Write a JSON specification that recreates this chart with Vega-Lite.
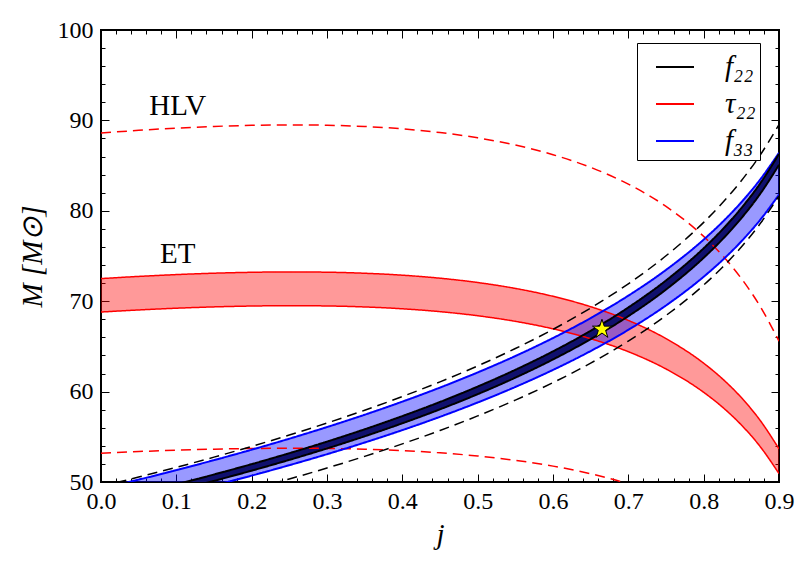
{
  "$schema": "https://vega.github.io/schema/vega-lite/v6.json",
  "width": 678,
  "height": 452,
  "autosize": {"type": "none"},
  "padding": {"left": 101, "top": 30, "right": 24, "bottom": 81},
  "background": "white",
  "config": {
    "view": {"stroke": "black", "strokeWidth": 2},
    "axis": {
      "domain": false, "grid": false, "tickColor": "black", "tickWidth": 1,
      "labelColor": "black", "titleColor": "black",
      "labelFont": "Liberation Serif", "labelFontSize": 24,
      "titleFont": "Liberation Serif", "titleFontSize": 29, "titleFontWeight": "normal", "titleFontStyle": "italic",
      "labelFlush": false, "labelOverlap": false
    }
  },
  "datasets": {
    "bands": [
      {"q": "τ₂₂", "det": "ET", "j": 0, "lo": 68.802, "hi": 72.499},
      {"q": "τ₂₂", "det": "ET", "j": 0.05, "lo": 69.032, "hi": 72.742},
      {"q": "τ₂₂", "det": "ET", "j": 0.1, "lo": 69.223, "hi": 72.943},
      {"q": "τ₂₂", "det": "ET", "j": 0.15, "lo": 69.370, "hi": 73.097},
      {"q": "τ₂₂", "det": "ET", "j": 0.2, "lo": 69.465, "hi": 73.198},
      {"q": "τ₂₂", "det": "ET", "j": 0.25, "lo": 69.504, "hi": 73.239},
      {"q": "τ₂₂", "det": "ET", "j": 0.3, "lo": 69.474, "hi": 73.207},
      {"q": "τ₂₂", "det": "ET", "j": 0.35, "lo": 69.364, "hi": 73.092},
      {"q": "τ₂₂", "det": "ET", "j": 0.4, "lo": 69.161, "hi": 72.878},
      {"q": "τ₂₂", "det": "ET", "j": 0.45, "lo": 68.844, "hi": 72.544},
      {"q": "τ₂₂", "det": "ET", "j": 0.5, "lo": 68.392, "hi": 72.067},
      {"q": "τ₂₂", "det": "ET", "j": 0.55, "lo": 67.773, "hi": 71.415},
      {"q": "τ₂₂", "det": "ET", "j": 0.6, "lo": 66.944, "hi": 70.542},
      {"q": "τ₂₂", "det": "ET", "j": 0.65, "lo": 65.852, "hi": 69.392},
      {"q": "τ₂₂", "det": "ET", "j": 0.7, "lo": 64.413, "hi": 67.875},
      {"q": "τ₂₂", "det": "ET", "j": 0.75, "lo": 62.504, "hi": 65.863},
      {"q": "τ₂₂", "det": "ET", "j": 0.8, "lo": 59.922, "hi": 63.142},
      {"q": "τ₂₂", "det": "ET", "j": 0.825, "lo": 58.278, "hi": 61.410},
      {"q": "τ₂₂", "det": "ET", "j": 0.85, "lo": 56.311, "hi": 59.338},
      {"q": "τ₂₂", "det": "ET", "j": 0.875, "lo": 53.917, "hi": 56.815},
      {"q": "τ₂₂", "det": "ET", "j": 0.9, "lo": 50.927, "hi": 53.664},

      {"q": "τ₂₂", "det": "HLV", "j": 0, "lo": 53.192, "hi": 88.601},
      {"q": "τ₂₂", "det": "HLV", "j": 0.05, "lo": 53.370, "hi": 88.898},
      {"q": "τ₂₂", "det": "HLV", "j": 0.1, "lo": 53.517, "hi": 89.143},
      {"q": "τ₂₂", "det": "HLV", "j": 0.15, "lo": 53.631, "hi": 89.332},
      {"q": "τ₂₂", "det": "HLV", "j": 0.2, "lo": 53.705, "hi": 89.455},
      {"q": "τ₂₂", "det": "HLV", "j": 0.25, "lo": 53.735, "hi": 89.505},
      {"q": "τ₂₂", "det": "HLV", "j": 0.3, "lo": 53.711, "hi": 89.466},
      {"q": "τ₂₂", "det": "HLV", "j": 0.35, "lo": 53.627, "hi": 89.325},
      {"q": "τ₂₂", "det": "HLV", "j": 0.4, "lo": 53.470, "hi": 89.063},
      {"q": "τ₂₂", "det": "HLV", "j": 0.45, "lo": 53.225, "hi": 88.656},
      {"q": "τ₂₂", "det": "HLV", "j": 0.5, "lo": 52.875, "hi": 88.073},
      {"q": "τ₂₂", "det": "HLV", "j": 0.55, "lo": 52.396, "hi": 87.276},
      {"q": "τ₂₂", "det": "HLV", "j": 0.6, "lo": 51.756, "hi": 86.209},
      {"q": "τ₂₂", "det": "HLV", "j": 0.65, "lo": 50.912, "hi": 84.803},
      {"q": "τ₂₂", "det": "HLV", "j": 0.7, "lo": 49.799, "hi": 82.949},
      {"q": "τ₂₂", "det": "HLV", "j": 0.75, "lo": 48.323, "hi": 80.490},
      {"q": "τ₂₂", "det": "HLV", "j": 0.8, "lo": 46.327, "hi": 77.166},
      {"q": "τ₂₂", "det": "HLV", "j": 0.825, "lo": 45.056, "hi": 75.049},
      {"q": "τ₂₂", "det": "HLV", "j": 0.85, "lo": 43.535, "hi": 72.516},
      {"q": "τ₂₂", "det": "HLV", "j": 0.875, "lo": 41.684, "hi": 69.432},
      {"q": "τ₂₂", "det": "HLV", "j": 0.9, "lo": 39.373, "hi": 65.583},

      {"q": "f₃₃", "det": "ET", "j": 0, "lo": 46.619, "hi": 49.255},
      {"q": "f₃₃", "det": "ET", "j": 0.05, "lo": 47.573, "hi": 50.263},
      {"q": "f₃₃", "det": "ET", "j": 0.1, "lo": 48.570, "hi": 51.316},
      {"q": "f₃₃", "det": "ET", "j": 0.15, "lo": 49.613, "hi": 52.418},
      {"q": "f₃₃", "det": "ET", "j": 0.2, "lo": 50.707, "hi": 53.574},
      {"q": "f₃₃", "det": "ET", "j": 0.25, "lo": 51.859, "hi": 54.791},
      {"q": "f₃₃", "det": "ET", "j": 0.3, "lo": 53.075, "hi": 56.076},
      {"q": "f₃₃", "det": "ET", "j": 0.35, "lo": 54.365, "hi": 57.439},
      {"q": "f₃₃", "det": "ET", "j": 0.4, "lo": 55.738, "hi": 58.890},
      {"q": "f₃₃", "det": "ET", "j": 0.45, "lo": 57.209, "hi": 60.444},
      {"q": "f₃₃", "det": "ET", "j": 0.5, "lo": 58.793, "hi": 62.118},
      {"q": "f₃₃", "det": "ET", "j": 0.55, "lo": 60.513, "hi": 63.935},
      {"q": "f₃₃", "det": "ET", "j": 0.6, "lo": 62.398, "hi": 65.926},
      {"q": "f₃₃", "det": "ET", "j": 0.65, "lo": 64.486, "hi": 68.132},
      {"q": "f₃₃", "det": "ET", "j": 0.7, "lo": 66.834, "hi": 70.613},
      {"q": "f₃₃", "det": "ET", "j": 0.75, "lo": 69.528, "hi": 73.459},
      {"q": "f₃₃", "det": "ET", "j": 0.8, "lo": 72.705, "hi": 76.816},
      {"q": "f₃₃", "det": "ET", "j": 0.825, "lo": 74.546, "hi": 78.761},
      {"q": "f₃₃", "det": "ET", "j": 0.85, "lo": 76.616, "hi": 80.948},
      {"q": "f₃₃", "det": "ET", "j": 0.875, "lo": 78.990, "hi": 83.457},
      {"q": "f₃₃", "det": "ET", "j": 0.9, "lo": 81.791, "hi": 86.416},

      {"q": "f₂₂", "det": "ET", "j": 0, "lo": 47.053, "hi": 47.717},
      {"q": "f₂₂", "det": "ET", "j": 0.05, "lo": 48.030, "hi": 48.708},
      {"q": "f₂₂", "det": "ET", "j": 0.1, "lo": 49.052, "hi": 49.744},
      {"q": "f₂₂", "det": "ET", "j": 0.15, "lo": 50.125, "hi": 50.831},
      {"q": "f₂₂", "det": "ET", "j": 0.2, "lo": 51.254, "hi": 51.976},
      {"q": "f₂₂", "det": "ET", "j": 0.25, "lo": 52.446, "hi": 53.186},
      {"q": "f₂₂", "det": "ET", "j": 0.3, "lo": 53.710, "hi": 54.468},
      {"q": "f₂₂", "det": "ET", "j": 0.35, "lo": 55.055, "hi": 55.831},
      {"q": "f₂₂", "det": "ET", "j": 0.4, "lo": 56.494, "hi": 57.290},
      {"q": "f₂₂", "det": "ET", "j": 0.45, "lo": 58.040, "hi": 58.858},
      {"q": "f₂₂", "det": "ET", "j": 0.5, "lo": 59.714, "hi": 60.556},
      {"q": "f₂₂", "det": "ET", "j": 0.55, "lo": 61.541, "hi": 62.409},
      {"q": "f₂₂", "det": "ET", "j": 0.6, "lo": 63.554, "hi": 64.450},
      {"q": "f₂₂", "det": "ET", "j": 0.65, "lo": 65.800, "hi": 66.728},
      {"q": "f₂₂", "det": "ET", "j": 0.7, "lo": 68.344, "hi": 69.308},
      {"q": "f₂₂", "det": "ET", "j": 0.75, "lo": 71.289, "hi": 72.295},
      {"q": "f₂₂", "det": "ET", "j": 0.8, "lo": 74.801, "hi": 75.855},
      {"q": "f₂₂", "det": "ET", "j": 0.825, "lo": 76.854, "hi": 77.938},
      {"q": "f₂₂", "det": "ET", "j": 0.85, "lo": 79.181, "hi": 80.297},
      {"q": "f₂₂", "det": "ET", "j": 0.875, "lo": 81.874, "hi": 83.028},
      {"q": "f₂₂", "det": "ET", "j": 0.9, "lo": 85.085, "hi": 86.285},

      {"q": "f₂₂", "det": "HLV", "j": 0, "lo": 45.158, "hi": 49.517},
      {"q": "f₂₂", "det": "HLV", "j": 0.05, "lo": 46.096, "hi": 50.546},
      {"q": "f₂₂", "det": "HLV", "j": 0.1, "lo": 47.076, "hi": 51.621},
      {"q": "f₂₂", "det": "HLV", "j": 0.15, "lo": 48.106, "hi": 52.750},
      {"q": "f₂₂", "det": "HLV", "j": 0.2, "lo": 49.189, "hi": 53.938},
      {"q": "f₂₂", "det": "HLV", "j": 0.25, "lo": 50.334, "hi": 55.193},
      {"q": "f₂₂", "det": "HLV", "j": 0.3, "lo": 51.547, "hi": 56.523},
      {"q": "f₂₂", "det": "HLV", "j": 0.35, "lo": 52.837, "hi": 57.938},
      {"q": "f₂₂", "det": "HLV", "j": 0.4, "lo": 54.218, "hi": 59.452},
      {"q": "f₂₂", "det": "HLV", "j": 0.45, "lo": 55.702, "hi": 61.079},
      {"q": "f₂₂", "det": "HLV", "j": 0.5, "lo": 57.309, "hi": 62.841},
      {"q": "f₂₂", "det": "HLV", "j": 0.55, "lo": 59.062, "hi": 64.764},
      {"q": "f₂₂", "det": "HLV", "j": 0.6, "lo": 60.994, "hi": 66.882},
      {"q": "f₂₂", "det": "HLV", "j": 0.65, "lo": 63.150, "hi": 69.246},
      {"q": "f₂₂", "det": "HLV", "j": 0.7, "lo": 65.591, "hi": 71.923},
      {"q": "f₂₂", "det": "HLV", "j": 0.75, "lo": 68.418, "hi": 75.023},
      {"q": "f₂₂", "det": "HLV", "j": 0.8, "lo": 71.788, "hi": 78.718},
      {"q": "f₂₂", "det": "HLV", "j": 0.825, "lo": 73.758, "hi": 80.879},
      {"q": "f₂₂", "det": "HLV", "j": 0.85, "lo": 75.991, "hi": 83.327},
      {"q": "f₂₂", "det": "HLV", "j": 0.875, "lo": 78.576, "hi": 86.161},
      {"q": "f₂₂", "det": "HLV", "j": 0.9, "lo": 81.658, "hi": 89.541}
    ],
    "labels": [
      {"t": "HLV", "j": 0.102, "M": 91.6},
      {"t": "ET", "j": 0.102, "M": 75.2}
    ],
    "star": [
      {"j": 0.665, "M": 66.9}
    ]
  },
  "layer": [
    {
      "data": {"name": "bands"},
      "transform": [{"filter": "datum.q === 'τ₂₂' && datum.det === 'ET'"}],
      "mark": {"type": "area", "clip": true, "color": "#ff0000", "opacity": 0.4, "interpolate": "monotone"},
      "encoding": {
        "x": {
          "field": "j", "type": "quantitative",
          "scale": {"domain": [0, 0.9], "nice": false, "zero": false},
          "axis": {
            "orient": "bottom", "title": "j", "titlePadding": 3,
            "values": [0,0.02,0.04,0.06,0.08,0.1,0.12,0.14,0.16,0.18,0.2,0.22,0.24,0.26,0.28,0.3,0.32,0.34,0.36,0.38,0.4,0.42,0.44,0.46,0.48,0.5,0.52,0.54,0.56,0.58,0.6,0.62,0.64,0.66,0.68,0.7,0.72,0.74,0.76,0.78,0.8,0.82,0.84,0.86,0.88,0.9],
            "tickSize": {"condition": {"test": "abs(datum.value*10 - round(datum.value*10)) < 0.001", "value": -8}, "value": -4},
            "labelExpr": "abs(datum.value*10 - round(datum.value*10)) < 0.001 ? format(datum.value, '.1f') : ''",
            "labelPadding": 15
          }
        },
        "y": {
          "field": "lo", "type": "quantitative",
          "scale": {"domain": [50, 100], "nice": false, "zero": false},
          "axis": {
            "orient": "left", "title": "M [M⊙]", "titlePadding": 10,
            "values": [50,52,54,56,58,60,62,64,66,68,70,72,74,76,78,80,82,84,86,88,90,92,94,96,98,100],
            "tickSize": {"condition": {"test": "datum.value % 10 === 0", "value": -8}, "value": -4},
            "labelExpr": "datum.value % 10 === 0 ? format(datum.value, 'd') : ''",
            "labelPadding": 16
          }
        },
        "y2": {"field": "hi"}
      }
    },
    {
      "data": {"name": "bands"},
      "transform": [{"filter": "datum.q === 'f₃₃' && datum.det === 'ET'"}],
      "mark": {"type": "area", "clip": true, "color": "#0000ff", "opacity": 0.4, "interpolate": "monotone"},
      "encoding": {
        "x": {"field": "j", "type": "quantitative", "axis": null},
        "y": {"field": "lo", "type": "quantitative", "axis": null},
        "y2": {"field": "hi"}
      }
    },
    {
      "data": {"name": "bands"},
      "transform": [{"filter": "datum.q === 'f₂₂' && datum.det === 'ET'"}],
      "mark": {"type": "area", "clip": true, "color": "#10106e", "opacity": 1, "interpolate": "monotone"},
      "encoding": {
        "x": {"field": "j", "type": "quantitative", "axis": null},
        "y": {"field": "lo", "type": "quantitative", "axis": null},
        "y2": {"field": "hi"}
      }
    },
    {
      "data": {"name": "bands"},
      "transform": [{"fold": ["lo", "hi"], "as": ["edge", "M"]}],
      "mark": {"type": "line", "clip": true, "interpolate": "monotone"},
      "encoding": {
        "x": {"field": "j", "type": "quantitative", "axis": null},
        "y": {"field": "M", "type": "quantitative", "axis": null},
        "stroke": {
          "field": "q", "type": "nominal",
          "scale": {"domain": ["f₂₂", "τ₂₂", "f₃₃"], "range": ["#000000", "#ff0000", "#0000ff"]},
          "legend": {
            "title": null, "orient": "none", "legendX": 536, "legendY": 13,
            "symbolType": "stroke", "symbolSize": 1444, "symbolStrokeWidth": 2,
            "symbolOffset": 14, "labelOffset": 30, "rowPadding": 2, "padding": 4,
            "labelFont": "Liberation Serif", "labelFontStyle": "italic", "labelFontSize": 29, "labelColor": "black",
            "fillColor": "white", "strokeColor": "black", "cornerRadius": 0
          }
        },
        "strokeDash": {
          "field": "det", "type": "nominal",
          "scale": {"domain": ["ET", "HLV"], "range": [[1, 0], [10, 6]]},
          "legend": null
        },
        "detail": {"field": "edge", "type": "nominal"},
        "strokeWidth": {"condition": {"test": "datum.det === 'ET' && datum.q !== 'τ₂₂'", "value": 2}, "value": 1.5}
      }
    },
    {
      "data": {"name": "labels"},
      "mark": {"type": "text", "font": "Liberation Serif", "fontSize": 29, "color": "black", "align": "center", "baseline": "middle"},
      "encoding": {
        "x": {"field": "j", "type": "quantitative", "axis": null},
        "y": {"field": "M", "type": "quantitative", "axis": null},
        "text": {"field": "t", "type": "nominal"}
      }
    },
    {
      "data": {"name": "star"},
      "mark": {"type": "point", "shape": "M0,-1L0.2245,-0.309L0.9511,-0.309L0.3633,0.118L0.5878,0.809L0,0.382L-0.5878,0.809L-0.3633,0.118L-0.9511,-0.309L-0.2245,-0.309Z", "filled": true, "fill": "#ffff00", "stroke": "black", "strokeWidth": 1, "size": 400, "opacity": 1},
      "encoding": {
        "x": {
          "field": "j", "type": "quantitative",
          "axis": {
            "orient": "top", "title": null, "labels": false,
            "values": [0,0.02,0.04,0.06,0.08,0.1,0.12,0.14,0.16,0.18,0.2,0.22,0.24,0.26,0.28,0.3,0.32,0.34,0.36,0.38,0.4,0.42,0.44,0.46,0.48,0.5,0.52,0.54,0.56,0.58,0.6,0.62,0.64,0.66,0.68,0.7,0.72,0.74,0.76,0.78,0.8,0.82,0.84,0.86,0.88,0.9],
            "tickSize": {"condition": {"test": "abs(datum.value*10 - round(datum.value*10)) < 0.001", "value": -8}, "value": -4}
          }
        },
        "y": {
          "field": "M", "type": "quantitative",
          "axis": {
            "orient": "right", "title": null, "labels": false,
            "values": [50,52,54,56,58,60,62,64,66,68,70,72,74,76,78,80,82,84,86,88,90,92,94,96,98,100],
            "tickSize": {"condition": {"test": "datum.value % 10 === 0", "value": -8}, "value": -4}
          }
        }
      }
    }
  ]
}
